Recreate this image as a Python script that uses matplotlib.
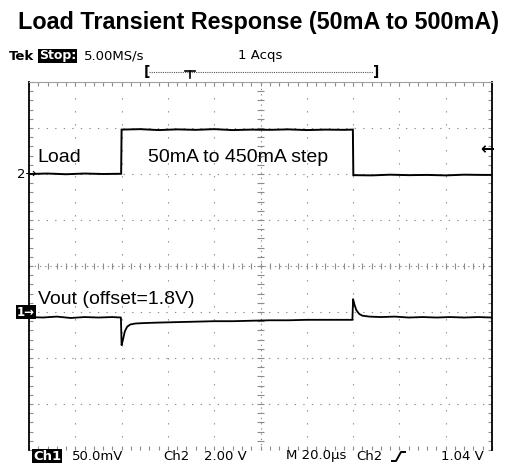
import matplotlib
matplotlib.use("Agg")
import matplotlib.pyplot as plt
import numpy as np
from matplotlib.lines import Line2D

W, H = 513, 468

# Scope settings
ch1_scale_mv = 50.0      # mV/div
ch2_scale_v = 2.00       # V/div
time_scale_us = 20.0     # us/div
ch1_marker_div = -1.0    # Vout reference marker position
ch2_marker_div = 2.0     # Load reference marker position

# Load (Ch2) trace: time (us), level (V) relative to its marker
load_t = [-100, -92, -84, -76, -68, -60.2, -60.0, -52, -44, -36, -28, -20, -12, -4,
          4, 12, 20, 28, 36, 39.9, 40.1, 48, 56, 64, 72, 80, 88, 96, 100]
load_v = [0.00, 0.02, -0.01, 0.02, 0.00, 0.01, 1.93, 1.95, 1.91, 1.94, 1.92, 1.95, 1.91, 1.93,
          1.92, 1.94, 1.91, 1.93, 1.92, 1.93, -0.05, -0.06, -0.03, -0.05, -0.04, -0.06, -0.03, -0.04, -0.04]

# Vout (Ch1) trace: time (us), deviation (mV) relative to its marker
vout_t = [-100, -94, -88, -82, -76, -70, -64, -60.3, -60.0, -59.4, -58.6, -57.6, -56.2, -54,
          -50, -44, -36, -28, -20, -12, -4, 4, 12, 20, 28, 36, 39.7, 40.0, 40.6, 41.4, 42.6,
          44, 47, 52, 58, 64, 70, 76, 82, 88, 94, 100]
vout_mv = [-5.5, -6.0, -5.0, -6.5, -5.5, -6.0, -5.5, -6.0, -36.0, -30.0, -21.0, -16.0, -13.5, -12.5,
           -12.0, -11.5, -11.0, -10.5, -10.0, -10.0, -9.5, -9.0, -9.0, -8.5, -8.5, -8.5, -8.5, 14.0, 8.0, 2.0, -2.0,
           -4.0, -5.0, -5.5, -5.0, -6.0, -5.5, -6.0, -5.5, -6.0, -5.5, -6.0]

title = "Load Transient Response (50mA to 500mA)"

fig = plt.figure(figsize=(W / 100, H / 100), dpi=100)

def fx(x):
    return x / W

def fy(y):
    return 1 - y / H

left_px, right_px, top_px, bot_px = 29, 492, 82, 450
ax = fig.add_axes([fx(left_px), fy(bot_px), (right_px - left_px) / W, (bot_px - top_px) / H])
ax.set_xlim(-100, 100)
ax.set_ylim(-4, 4)

grid_col = "#8c8c8c"
# graticule
for xv in np.arange(-80, 81, 20):
    if xv == 0:
        continue
    ax.axvline(xv, color=grid_col, lw=0.8, ls=(0, (1.2, 10.5)))
for yv in np.arange(-3, 4, 1):
    if yv == 0:
        continue
    ax.axhline(yv, color=grid_col, lw=0.8, ls=(0, (1.2, 6.5)))
# centre cross with minor ticks
ax.axvline(0, color=grid_col, lw=0.8, ls=(0, (1.2, 3.5)))
ax.axhline(0, color=grid_col, lw=0.8, ls=(0, (1.2, 3.5)))
mx = np.arange(-100, 100.01, 4)
ax.vlines(mx, -0.07, 0.07, color=grid_col, lw=0.8)
my = np.arange(-4, 4.01, 0.2)
ax.hlines(my, -1.6, 1.6, color=grid_col, lw=0.8)

# edge ticks
ax.set_xticks(np.arange(-100, 100.01, 4))
ax.set_yticks(np.arange(-4, 4.01, 0.2))
ax.tick_params(axis="both", direction="in", length=3, width=0.8, color=grid_col,
               top=True, bottom=True, left=True, right=True,
               labelbottom=False, labelleft=False)
for s in ("left", "right"):
    ax.spines[s].set_color("black")
    ax.spines[s].set_linewidth(1.3)
ax.spines["top"].set_color("#a0a0a0")
ax.spines["top"].set_linewidth(0.8)
ax.spines["bottom"].set_visible(False)

# traces
load_div = ch2_marker_div + np.array(load_v) / ch2_scale_v
vout_div = ch1_marker_div + np.array(vout_mv) / ch1_scale_mv
ax.plot(load_t, load_div, color="black", lw=1.4, solid_joinstyle="miter")
ax.plot(vout_t, vout_div, color="black", lw=1.3)

# annotations
ann_font = "Liberation Sans"
fig.text(fx(37), fy(158), "Load", fontsize=14, family=ann_font, va="center", ha="left")
fig.text(fx(148), fy(158), "50mA to 450mA step", fontsize=14, family=ann_font, va="center", ha="left")
fig.text(fx(38), fy(299), "Vout (offset=1.8V)", fontsize=14, family=ann_font, va="center", ha="left")

# title
fig.text(fx(258), fy(22), title, fontsize=16.8, family=ann_font, weight="bold",
         ha="center", va="center")

# scope status line
sfont = "DejaVu Sans"
fig.text(fx(9), fy(56), "Tek", fontsize=9.5, family=sfont, weight="bold", va="center")
fig.text(fx(39), fy(56), "Stop:", fontsize=9, family=sfont, weight="bold", color="white",
         va="center", bbox=dict(facecolor="black", edgecolor="none", pad=0.6))
fig.text(fx(84), fy(56), "5.00MS/s", fontsize=9.5, family=sfont, va="center")
fig.text(fx(238), fy(56), "1 Acqs", fontsize=9.5, family=sfont, va="center")

# record-window bracket
fig.text(fx(144), fy(72), "[", fontsize=10, family=sfont, weight="bold", va="center")
fig.text(fx(373), fy(72), "]", fontsize=10, family=sfont, weight="bold", va="center")
fig.add_artist(Line2D([fx(149), fx(373)], [fy(72), fy(72)], color="#555555", lw=0.8,
                      ls=(0, (1, 1))))
fig.add_artist(Line2D([fx(185), fx(195)], [fy(71), fy(71)], color="black", lw=1.2))
fig.add_artist(Line2D([fx(190), fx(190)], [fy(71), fy(78)], color="black", lw=1.2))

# channel markers
fig.text(fx(17), fy(174), "2\u2192", fontsize=9.5, family=sfont, va="center")
fig.text(fx(17), fy(312), "1\u2192", fontsize=8.5, family=sfont, weight="bold", color="white",
         va="center", bbox=dict(facecolor="black", edgecolor="none", pad=0.4))
fig.text(fx(480), fy(149), "\u2190", fontsize=12, family=sfont, weight="bold", va="center")

# bottom readout
fig.text(fx(33), fy(456), "Ch1", fontsize=9.5, family=sfont, weight="bold", color="white",
         va="center", bbox=dict(facecolor="black", edgecolor="none", pad=0.6))
fig.text(fx(72), fy(456), "50.0mV", fontsize=9.5, family=sfont, va="center")
fig.text(fx(163), fy(456), "Ch2", fontsize=9.5, family=sfont, va="center")
fig.text(fx(204), fy(456), "2.00 V", fontsize=9.5, family=sfont, va="center")
fig.text(fx(286), fy(456), "M 20.0\u00b5s", fontsize=9.5, family=sfont, va="center")
fig.text(fx(356), fy(456), "Ch2", fontsize=9.5, family=sfont, va="center")
fig.add_artist(Line2D([fx(392), fx(396), fx(401), fx(405)],
                      [fy(461), fy(461), fy(452), fy(452)], color="black", lw=1.4))
fig.text(fx(441), fy(456), "1.04 V", fontsize=9.5, family=sfont, va="center")

fig.savefig("out.png", dpi=100, facecolor="white")
